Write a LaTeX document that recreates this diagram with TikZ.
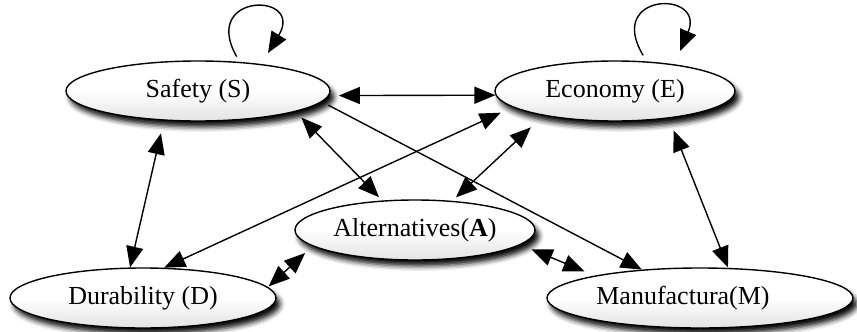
\documentclass[tikz,border=0pt]{standalone}
\usepackage{fontspec}
\setmainfont{Liberation Serif}
\usetikzlibrary{arrows.meta,shapes.geometric,shadows.blur}
\begin{document}
\begin{tikzpicture}[x=1pt,y=-1pt,
  state/.style={ellipse, draw, line width=1.4pt, inner sep=0pt, minimum height=60pt,
    top color=white, bottom color=gray!22, middle color=white,
    blur shadow={shadow xshift=4pt, shadow yshift=-6pt, shadow blur radius=5pt, shadow opacity=95},
    font=\fontsize{26}{31}\selectfont},
  lnk/.style={line width=1.4pt},
  Tri/.tip={Triangle[length=21pt,width=17pt]},
  one/.style={lnk,-Tri},
  both/.style={lnk,Tri-Tri}]
\useasboundingbox (0,0) rectangle (857,332);

\node[state, minimum width=264pt] (S) at (198,91) {Safety (S)};
\node[state, minimum width=240pt] (E) at (615,91) {Economy (E)};
\node[state, minimum width=240pt] (A) at (415,230) {Alternatives(\textbf{A})};
\node[state, minimum width=266pt] (D) at (143,298) {Durability (D)};
\node[state, minimum width=306pt] (M) at (700,298) {Manufactura(M)\hspace*{34pt}};

\draw[both, shorten <=9.7pt] (S.-2.05) -- (E.182.43);
\draw[both, shorten <=13pt] (S.221.4) -- (D.113.4);
\draw[both, shorten <=8pt, shorten >=4.5pt] (S.-12.15) -- (A.138.7);
\draw[one, shorten <=7pt] (S.-5) -- (M.154.2);
\draw[both, shorten >=13pt] (D.55.3) -- (E.189.4);
\draw[both, shorten <=5pt, shorten >=17pt] (A.38.2) -- (E.199.4);
\draw[both, shorten <=1pt, shorten >=10pt] (D.5.24) -- (A.189.35);
\draw[both, shorten <=11.8pt, shorten >=11.3pt] (A.-8.78) -- (M.168.2);
\draw[both, shorten <=12.9pt, shorten >=0.5pt] (E.-27.35) -- (M.47.3);

\coordinate (sl) at (268,53);
\draw[one, shorten <=6pt] (S.35.4) .. controls (200,-8) and (305,-8) .. (sl);
\coordinate (el) at (680,51);
\draw[one, shorten <=7pt] (E.43.1) .. controls (605,-8) and (706,-10) .. (el);
\end{tikzpicture}
\end{document}
